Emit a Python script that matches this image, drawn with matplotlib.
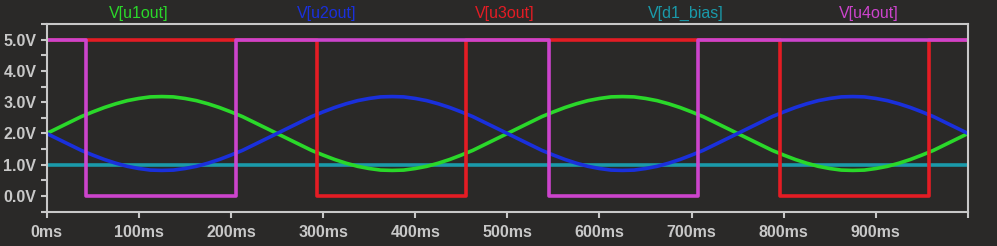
import matplotlib.pyplot as plt

# waveform samples every 12.5 ms (volts)
t_sine = [i * 12.5 for i in range(81)]
u1out = [2.00, 2.18, 2.36, 2.54, 2.69, 2.83, 2.95, 3.05, 3.12, 3.17, 3.18, 3.17, 3.12,
         3.05, 2.95, 2.83, 2.69, 2.54, 2.36, 2.18, 2.00, 1.82, 1.64, 1.46, 1.31, 1.17,
         1.05, 0.95, 0.88, 0.83, 0.82, 0.83, 0.88, 0.95, 1.05, 1.17, 1.31, 1.46, 1.64,
         1.82, 2.00,
         2.18, 2.36, 2.54, 2.69, 2.83, 2.95, 3.05, 3.12, 3.17, 3.18, 3.17, 3.12,
         3.05, 2.95, 2.83, 2.69, 2.54, 2.36, 2.18, 2.00, 1.82, 1.64, 1.46, 1.31, 1.17,
         1.05, 0.95, 0.88, 0.83, 0.82, 0.83, 0.88, 0.95, 1.05, 1.17, 1.31, 1.46, 1.64,
         1.82, 2.00]
u2out = [2.00, 1.82, 1.64, 1.46, 1.31, 1.17, 1.05, 0.95, 0.88, 0.83, 0.82, 0.83, 0.88,
         0.95, 1.05, 1.17, 1.31, 1.46, 1.64, 1.82, 2.00, 2.18, 2.36, 2.54, 2.69, 2.83,
         2.95, 3.05, 3.12, 3.17, 3.18, 3.17, 3.12, 3.05, 2.95, 2.83, 2.69, 2.54, 2.36,
         2.18, 2.00,
         1.82, 1.64, 1.46, 1.31, 1.17, 1.05, 0.95, 0.88, 0.83, 0.82, 0.83, 0.88,
         0.95, 1.05, 1.17, 1.31, 1.46, 1.64, 1.82, 2.00, 2.18, 2.36, 2.54, 2.69, 2.83,
         2.95, 3.05, 3.12, 3.17, 3.18, 3.17, 3.12, 3.05, 2.95, 2.83, 2.69, 2.54, 2.36,
         2.18, 2.00]

t_bias = [0, 1000]
d1_bias = [1.0, 1.0]

t_u3 = [0, 293, 293, 455, 455, 796, 796, 958, 958, 1000]
u3out = [5, 5, 0, 0, 5, 5, 0, 0, 5, 5]

t_u4 = [0, 43, 43, 205, 205, 545, 545, 707, 707, 1000]
u4out = [5, 5, 0, 0, 5, 5, 0, 0, 5, 5]

names = ["V[u1out]", "V[u2out]", "V[u3out]", "V[d1_bias]", "V[u4out]"]
name_x = [139, 327, 505, 686, 869]  # pixel centres of the trace names
colors = {"u1": "#2ad82a", "u2": "#1a30dc", "u3": "#e41c24", "bias": "#1a9aaa", "u4": "#cc44cc"}

BG = "#2a2928"
FG = "#c8c8c8"
W, H = 997, 246

fig = plt.figure(figsize=(W / 100, H / 100), dpi=100, facecolor=BG)
ax = fig.add_axes([46.7 / W, 34.3 / H, (968 - 46.7) / W, (211.7 - 24) / H])
ax.set_facecolor(BG)

kw = dict(lw=2.6, solid_joinstyle="round", solid_capstyle="butt")
ax.plot(t_bias, d1_bias, color=colors["bias"], **kw)
ax.plot(t_sine, u1out, color=colors["u1"], **kw)
ax.plot(t_sine, u2out, color=colors["u2"], **kw)
ax.plot(t_u3, u3out, color=colors["u3"], **kw)
ax.plot(t_u4, u4out, color=colors["u4"], **kw)

ax.set_xlim(0, 1000)
ax.set_ylim(-0.5, 5.5)

for s in ax.spines.values():
    s.set_color(FG)
    s.set_linewidth(1.5)

ax.set_xticks(range(0, 1001, 100))
ax.set_xticklabels([f"{v}ms" for v in range(0, 901, 100)] + [""])
ax.set_yticks([v * 0.5 for v in range(-1, 12)])
ax.set_yticklabels([f"{v * 0.5:.1f}V" if v % 2 == 0 and v >= 0 else "" for v in range(-1, 12)])

font = ["Liberation Sans", "DejaVu Sans"]
ax.tick_params(axis="both", colors=FG, length=4.5, width=1.5, direction="out")
ax.tick_params(axis="x", pad=5)
ax.tick_params(axis="y", pad=3)
for lab in ax.get_xticklabels() + ax.get_yticklabels():
    lab.set_family(font)
    lab.set_fontweight("bold")
    lab.set_fontsize(11.5)
    lab.set_color(FG)

name_colors = [colors["u1"], colors["u2"], colors["u3"], colors["bias"], colors["u4"]]
for name, x, c in zip(names, name_x, name_colors):
    fig.text(x / W, 1 - 13.5 / H, name, color=c, ha="center", va="center",
             family=font, fontsize=11.5)

fig.savefig("out.png", dpi=100, facecolor=BG)
